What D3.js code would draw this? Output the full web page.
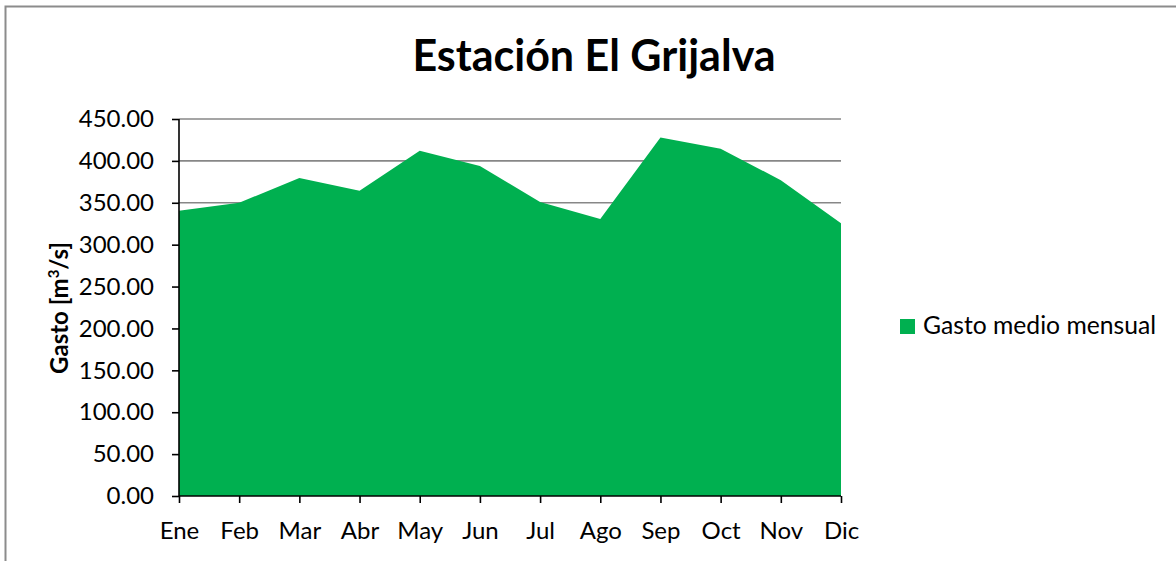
<!DOCTYPE html>
<html>
<head>
<meta charset="utf-8">
<script src="https://cdn.jsdelivr.net/npm/d3@7"></script>
<style>
  body { margin: 0; background: #fff; }
  svg { display: block; font-family: Lato, "Liberation Sans", Arial, sans-serif; }
</style>
</head>
<body>
<div class="chart"></div>
<script>
let months = ['Ene', 'Feb', 'Mar', 'Abr', 'May', 'Jun', 'Jul', 'Ago', 'Sep', 'Oct', 'Nov', 'Dic'];
let gasto = [340.5, 350, 379.5, 364.5, 412, 394, 351, 330.5, 428, 414.5, 377, 325.5];
let yTicks = [0, 50, 100, 150, 200, 250, 300, 350, 400, 450];
let seriesName = 'Gasto medio mensual';
let title = 'Estación El Grijalva';

let width = 1176;
let height = 561;
let plotLeft = 179, plotRight = 841, plotTop = 119, plotBottom = 496;
let green = '#00b050';
let font = 'Lato, "Liberation Sans", Arial, sans-serif';

let svg = d3.select('.chart')
            .append('svg')
            .attr('width', width)
            .attr('height', height);

// chart frame
svg.append('rect')
   .attr('x', 5.5)
   .attr('y', 6.5)
   .attr('width', 1200)
   .attr('height', 600)
   .attr('fill', 'none')
   .attr('stroke', '#8c8c8c')
   .attr('stroke-width', 2);

let xScale = d3.scalePoint()
               .domain(months)
               .range([plotLeft, plotRight]);
let yScale = d3.scaleLinear()
               .domain([0, 450])
               .range([plotBottom, plotTop]);

// gridlines
svg.append('g')
   .selectAll('line')
   .data(yTicks.slice(1))
   .enter()
   .append('line')
   .attr('x1', plotLeft)
   .attr('x2', plotRight)
   .attr('y1', d => yScale(d))
   .attr('y2', d => yScale(d))
   .attr('stroke', '#878787')
   .attr('stroke-width', 1.6);

let area = d3.area()
             .x((d, i) => xScale(months[i]))
             .y0(yScale(0))
             .y1(d => yScale(d));

svg.append('path')
   .datum(gasto)
   .attr('d', area)
   .attr('fill', green);

let yAxis = d3.axisLeft(yScale)
              .tickValues(yTicks)
              .tickFormat(d3.format('.2f'))
              .tickSize(7)
              .tickPadding(18);
let gy = svg.append('g')
   .attr('transform', 'translate(' + plotLeft + ',0)')
   .call(yAxis);

let xAxis = d3.axisBottom(xScale)
              .tickSize(7)
              .tickPadding(19);
let gx = svg.append('g')
   .attr('transform', 'translate(0,' + plotBottom + ')')
   .call(xAxis);

[gx, gy].forEach(g => {
  g.select('.domain').attr('stroke', '#000').attr('stroke-width', 1.6);
  g.selectAll('.tick line').attr('stroke', '#000').attr('stroke-width', 1.6);
  g.selectAll('.tick text')
   .attr('fill', '#000')
   .style('font-size', '24px')
   .style('font-family', font);
});
gx.select('.domain').attr('d', 'M' + plotLeft + ',0H' + plotRight);
gy.select('.domain').attr('d', 'M0,' + plotBottom + 'V' + plotTop);

// title
svg.append('text')
   .attr('x', 594)
   .attr('y', 71)
   .attr('text-anchor', 'middle')
   .style('font-size', '43px')
   .style('font-weight', 'bold')
   .text(title);

// y label
let yl = svg.append('text')
   .attr('transform', 'translate(68,308) rotate(-90)')
   .attr('text-anchor', 'middle')
   .style('font-size', '24px')
   .style('font-weight', 'bold');
yl.append('tspan').text('Gasto [m');
yl.append('tspan').attr('dy', -9).style('font-size', '15px').text('3');
yl.append('tspan').attr('dy', 9).text('/s]');

// legend
let legend = svg.append('g')
   .attr('transform', 'translate(900,319)');
legend.append('rect')
   .attr('width', 15)
   .attr('height', 15)
   .attr('fill', green);
legend.append('text')
   .attr('x', 23)
   .attr('y', 15)
   .style('font-size', '24.7px')
   .text(seriesName);
</script>
</body>
</html>
